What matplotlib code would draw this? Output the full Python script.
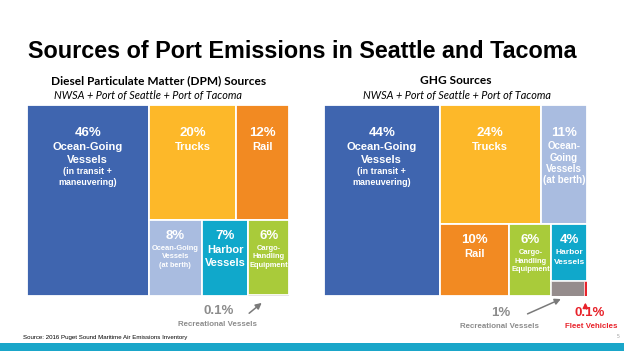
import matplotlib
matplotlib.use("Agg")
import matplotlib.pyplot as plt
from matplotlib.patches import Rectangle

BLUE, YELLOW, ORANGE, LIGHT = "#3F65AF", "#FDB829", "#F28A22", "#A9BCE0"
TEAL, GREEN, GRAY, RED = "#10A8CB", "#A9CB3A", "#958C8C", "#E8232B"
SANS = "Liberation Sans"
HEAD = "Lato"
W, H = 624, 351

# DPM sources (left treemap)
dpm_values = [46, 20, 12, 8, 7, 6, 0.1]
dpm_pct = ["46%", "20%", "12%", "8%", "7%", "6%", ""]
dpm_names = ["Ocean-Going\nVessels", "Trucks", "Rail", "Ocean-Going\nVessels",
             "Harbor\nVessels", "Cargo-\nHandling\nEquipment", ""]
dpm_notes = ["(in transit +\nmaneuvering)", "", "", "(at berth)", "", "", ""]
dpm_colors = [BLUE, YELLOW, ORANGE, LIGHT, TEAL, GREEN, GRAY]
dpm_tree = [0, [[1, 2], [3, 4, [5, 6]]]]

# GHG sources (right treemap)
ghg_values = [44, 24, 11, 10, 6, 4, 1, 0.1]
ghg_pct = ["44%", "24%", "11%", "10%", "6%", "4%", "", ""]
ghg_names = ["Ocean-Going\nVessels", "Trucks", "Ocean-\nGoing\nVessels\n(at berth)", "Rail",
             "Cargo-\nHandling\nEquipment", "Harbor\nVessels", "", ""]
ghg_notes = ["(in transit +\nmaneuvering)", "", "", "", "", "", "", ""]
ghg_colors = [BLUE, YELLOW, LIGHT, ORANGE, GREEN, TEAL, GRAY, RED]
ghg_tree = [0, [[1, 2], [3, 4, [5, [6, 7]]]]]

# font size of the name lines per box
dpm_name_size = [8, 8, 8, 5.4, 8, 5.4, 0]
ghg_name_size = [8, 8, 7.0, 8, 5.4, 6.0, 0, 0]


def total(node, values):
    if isinstance(node, int):
        return values[node]
    return sum(total(n, values) for n in node)


def layout(node, values, x, y, w, h, depth, out):
    # slice-and-dice: even depth splits across, odd depth splits down
    if isinstance(node, int):
        out[node] = (x, y, w, h)
        return
    s = total(node, values)
    pos = 0.0
    for n in node:
        frac = total(n, values) / s
        if depth % 2 == 0:
            layout(n, values, x + pos * w, y, frac * w, h, depth + 1, out)
        else:
            layout(n, values, x, y + pos * h, w, frac * h, depth + 1, out)
        pos += frac


def treemap(ax, values, tree, colors, pct, names, notes, name_size):
    rects = {}
    layout(tree, values, 0, 0, 1, 1, 0, rects)
    for i, (x, y, w, h) in sorted(rects.items()):
        lw = 1.3 if values[i] >= 2 else 0.4
        ax.add_patch(Rectangle((x, y), w, h, facecolor=colors[i],
                               edgecolor="white", lw=lw))
        lines = []
        if pct[i]:
            lines.append((pct[i], 9.5))
        lines += [(t, name_size[i]) for t in names[i].split("\n") if t]
        lines += [(t, 6.4 if h > 0.5 else 5.2) for t in notes[i].split("\n") if t]
        off = 20 if h > 0.5 else 11.5
        prev = None
        for txt, size in lines:
            if prev is not None:
                off += (prev + size) / 2 * 1.17
            ax.annotate(txt, (x + w / 2, y), xytext=(0, -off), textcoords="offset points",
                        ha="center", va="center", fontsize=size, color="white",
                        fontweight="bold", family=SANS)
            prev = size
    ax.set_xlim(0, 1)
    ax.set_ylim(1, 0)
    ax.axis("off")
    return rects


fig = plt.figure(figsize=(W / 100, H / 100), dpi=100)
fig.patch.set_facecolor("white")

ax1 = fig.add_axes([27 / W, 1 - 296 / H, 262 / W, 191 / H])
ax2 = fig.add_axes([324 / W, 1 - 296 / H, 263 / W, 191 / H])
r1 = treemap(ax1, dpm_values, dpm_tree, dpm_colors, dpm_pct, dpm_names, dpm_notes, dpm_name_size)
r2 = treemap(ax2, ghg_values, ghg_tree, ghg_colors, ghg_pct, ghg_names, ghg_notes, ghg_name_size)


def ftext(px, py, s, **kw):
    fig.text(px / W, 1 - py / H, s, **kw)


ftext(28, 57.5, "Sources of Port Emissions in Seattle and Tacoma", fontsize=16.8,
      fontweight="bold", family=SANS, va="baseline")
ftext(159, 84, "Diesel Particulate Matter (DPM) Sources", fontsize=8.6,
      fontweight="bold", family=HEAD, ha="center", va="baseline")
ftext(148, 98.5, "NWSA + Port of Seattle + Port of Tacoma", fontsize=7.8,
      style="italic", family=HEAD, ha="center", va="baseline")
ftext(456, 84, "GHG Sources", fontsize=8.6, fontweight="bold", family=HEAD,
      ha="center", va="baseline")
ftext(457, 98.5, "NWSA + Port of Seattle + Port of Tacoma", fontsize=7.8,
      style="italic", family=HEAD, ha="center", va="baseline")

# call-outs for the tiny boxes
ANN = "#8C8C8C"
ftext(219, 311, "0.1%", fontsize=9.5, fontweight="bold", color=ANN, family=SANS,
      ha="center", va="center")
ftext(218, 324, "Recreational Vessels", fontsize=5.7, fontweight="bold", color=ANN,
      family=SANS, ha="center", va="center")
ftext(501, 313, "1%", fontsize=9.5, fontweight="bold", color=ANN, family=SANS,
      ha="center", va="center")
ftext(500, 326, "Recreational Vessels", fontsize=5.7, fontweight="bold", color=ANN,
      family=SANS, ha="center", va="center")
ftext(590, 313, "0.1%", fontsize=9.5, fontweight="bold", color=RED, family=SANS,
      ha="center", va="center")
ftext(591, 326, "Fleet Vehicles", fontsize=5.7, fontweight="bold", color=RED,
      family=SANS, ha="center", va="center")

x, y, w, h = r1[6]
ax1.annotate("", (x + 0.38 * w, 1.027), xytext=(247, H - 315), textcoords="figure pixels",
             arrowprops=dict(arrowstyle="-|>,head_length=0.35,head_width=0.18",
                             color="#7A7A7A", lw=1.1), annotation_clip=False)
x, y, w, h = r2[6]
ax2.annotate("", (x + 0.37 * w, 1.01), xytext=(525, H - 315), textcoords="figure pixels",
             arrowprops=dict(arrowstyle="-|>,head_length=0.35,head_width=0.18",
                             color="#7A7A7A", lw=1.1), annotation_clip=False)
x, y, w, h = r2[7]
ax2.annotate("", (x + w / 2, 1.02), xytext=(0, -9), textcoords="offset pixels",
             arrowprops=dict(arrowstyle="-|>,head_length=0.3,head_width=0.15",
                             color=RED, lw=1.1), annotation_clip=False)

ftext(23, 338, "Source: 2016 Puget Sound Maritime Air Emissions Inventory", fontsize=4.4,
      family=SANS, va="center")
fig.add_artist(Rectangle((0, 0), 1, 8 / H, transform=fig.transFigure,
                         facecolor="#1AA6C9", edgecolor="none"))
ftext(617, 337, "5", fontsize=3.5, color="#A0A0A0", family=SANS, va="center")

fig.savefig("out.png", dpi=100, facecolor="white")
